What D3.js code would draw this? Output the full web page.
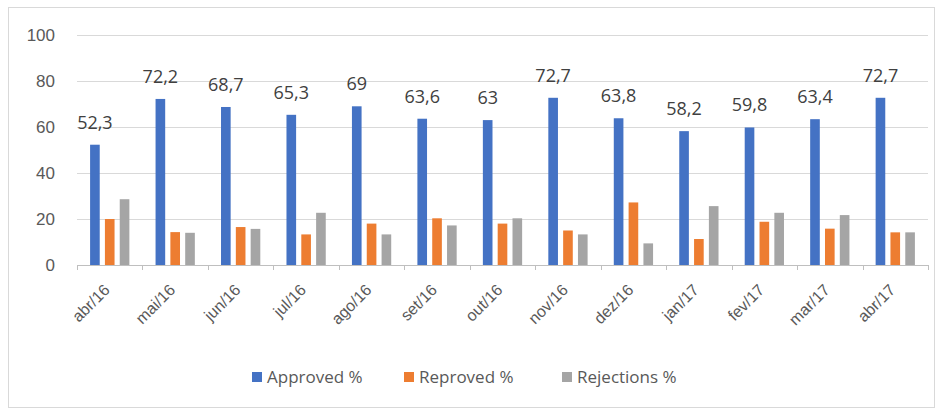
<!DOCTYPE html>
<html><head><meta charset="utf-8">
<script src="https://cdn.jsdelivr.net/npm/d3@7"></script>
<style>
html,body{margin:0;padding:0;background:#fff;}
svg{display:block;font-family:"Open Sans","Noto Sans",sans-serif;}
</style></head>
<body>
<svg id="chart" width="941" height="410"></svg>
<script>
const categories = ["abr/16","mai/16","jun/16","jul/16","ago/16","set/16","out/16","nov/16","dez/16","jan/17","fev/17","mar/17","abr/17"];
const approved = [52.3,72.2,68.7,65.3,69,63.6,63,72.7,63.8,58.2,59.8,63.4,72.7];
const reproved = [20,14.3,16.5,13.3,18,20.3,18,15,27.2,11.3,18.8,15.8,14.2];
const rejections = [28.6,14,15.7,22.7,13.3,17.2,20.3,13.3,9.4,25.6,22.7,21.7,14.2];
const seriesNames = ["Approved %","Reproved %","Rejections %"];
const colors = ["#4472C4","#ED7D31","#A5A5A5"];
const yTicks = [0,20,40,60,80,100];

const svg = d3.select("#chart");
svg.append("rect").attr("x",8.5).attr("y",7.5).attr("width",926).attr("height",400)
  .attr("fill","#fff").attr("stroke","#d9d9d9");

const mLeft=77,mRight=928,mTop=35,mBottom=265;
const y = d3.scaleLinear().domain([0,100]).range([mBottom,mTop]);
const x0 = d3.scaleBand().domain(categories).range([mLeft,mRight]).paddingInner(0.4).paddingOuter(0.2);
const x1 = d3.scaleBand().domain(seriesNames).range([0,x0.bandwidth()]).paddingInner(0.35);

// gridlines
svg.append("g").selectAll("line").data(yTicks.filter(d=>d>0)).join("line")
  .attr("x1",mLeft).attr("x2",mRight).attr("y1",d=>y(d)+0.5).attr("y2",d=>y(d)+0.5)
  .attr("stroke","#d9d9d9").attr("stroke-width",1);

// y axis labels
const yAxis = d3.axisLeft(y).tickValues(yTicks).tickSize(0).tickPadding(0).tickFormat(d3.format("d"));
const yg = svg.append("g").attr("transform",`translate(${mLeft-22},0)`).call(yAxis);
yg.select(".domain").remove();
yg.selectAll("text").attr("fill","#595959").style("font-size","17px");

// x axis
const xAxis = d3.axisBottom(x0).tickSize(0).tickPadding(0);
const xg = svg.append("g").attr("transform",`translate(0,${mBottom})`).call(xAxis);
xg.select(".domain").attr("stroke","#bfbfbf");
xg.selectAll(".tick text").attr("fill","#595959").style("font-size","16px")
  .attr("text-anchor","end").attr("dy",null).attr("y",0)
  .attr("transform","translate(1,26) rotate(-45)");
// category boundary ticks
const bounds = categories.map(c=>x0(c)-x0.step()*x0.paddingInner()/2).concat([mRight]);
xg.append("g").selectAll("line").data(bounds).join("line")
  .attr("x1",d=>Math.round(d)+0.5).attr("x2",d=>Math.round(d)+0.5).attr("y1",0).attr("y2",5)
  .attr("stroke","#bfbfbf");

// bars
const seriesData = [approved,reproved,rejections];
seriesNames.forEach((s,si)=>{
  svg.append("g").selectAll("rect").data(seriesData[si]).join("rect")
    .attr("x",(d,i)=>x0(categories[i])+x1(s))
    .attr("width",x1.bandwidth())
    .attr("y",d=>y(d)).attr("height",d=>y(0)-y(d))
    .attr("fill",colors[si]);
});

// data labels on Approved
svg.append("g").selectAll("text").data(approved).join("text")
  .attr("x",(d,i)=>x0(categories[i])+x1(seriesNames[0])+x1.bandwidth()/2)
  .attr("y",d=>y(d)-16)
  .attr("text-anchor","middle").attr("fill","#404040").style("font-size","18px")
  .text(d=>String(d).replace(".",","));

// legend
const legendX=[252,404,562];
const lg = svg.append("g");
seriesNames.forEach((s,i)=>{
  lg.append("rect").attr("x",legendX[i]).attr("y",372).attr("width",10).attr("height",10).attr("fill",colors[i]);
  lg.append("text").attr("x",legendX[i]+15).attr("y",383).attr("fill","#595959")
    .style("font-size","17px").text(s);
});
</script>
</body></html>
